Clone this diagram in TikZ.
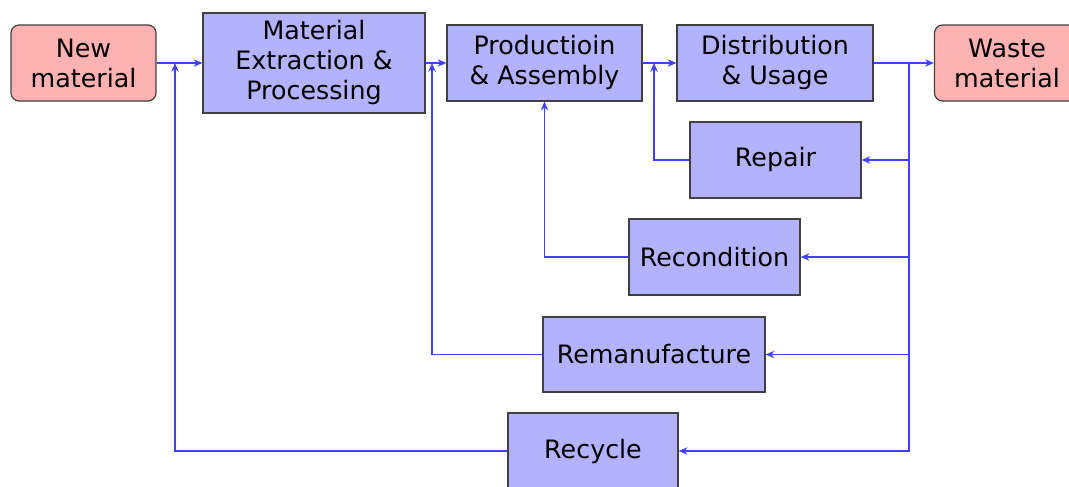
\documentclass[tikz,border=0pt]{standalone}
\usepackage{fontspec}
\setmainfont{DejaVu Sans}
\usetikzlibrary{arrows.meta}
\begin{document}
\begin{tikzpicture}[x=0.75pt,y=-0.75pt,
  every node/.style={font=\fontsize{19}{22.5}\selectfont, align=center, inner sep=0pt},
  proc/.style={draw=black!75, line width=0.9pt, fill=blue!30, minimum height=57pt},
  terminal/.style={draw=black!75, line width=0.9pt, fill=red!30, rounded corners=6pt,
    minimum width=108.75pt, minimum height=57pt},
  flow/.style={draw=blue!75, line width=1.1pt, -{Stealth[length=6.5pt,width=5.5pt,inset=2pt]}},
  link/.style={draw=blue!75, line width=1.1pt}]
\useasboundingbox (0,0) rectangle (1069,486);
\clip (0,0) rectangle (1069,486);

% main chain
\node[terminal] (new) at (83.5,63) {New\\material};
\node[proc, minimum width=166.5pt, minimum height=75pt] (ext) at (314,63) {Material\\Extraction \&\\Processing};
\node[proc, minimum width=146.25pt] (prod) at (544.5,63) {Productioin\\\& Assembly};
\node[proc, minimum width=147pt] (dist) at (775,63) {Distribution\\\& Usage};
\node[terminal] (waste) at (1007,63) {Waste\\material};

% recovery loops
\node[proc, minimum width=128.25pt] (repair) at (775.5,160) {Repair};
\node[proc, minimum width=128.25pt] (recond) at (714.5,257) {Recondition};
\node[proc, minimum width=166.5pt, minimum height=56.25pt] (reman) at (654,354.5) {Remanufacture};
\node[proc, minimum width=127.5pt] (recycle) at (593,451) {Recycle};

% return points on the main line
\coordinate (jw) at (909,63);
\coordinate (r1) at (175,63);
\coordinate (r2) at (432,63);
\coordinate (r3) at (654,63);

\draw[flow] (new) -- (ext);
\draw[flow] (ext) -- (prod);
\draw[flow] (prod) -- (dist);
\draw[flow] (dist) -- (waste);

\draw[link] (jw) -- (jw |- recycle.east);
\draw[flow] (jw) |- (repair.east);
\draw[flow] (jw) |- (recond.east);
\draw[flow] (jw) |- (reman.east);
\draw[flow] (jw) |- (recycle.east);

\draw[flow] (repair.west) -| (r3);
\draw[flow] (recond.west) -| (prod.south);
\draw[flow] (reman.west) -| (r2);
\draw[flow] (recycle.west) -| (r1);
\end{tikzpicture}
\end{document}
